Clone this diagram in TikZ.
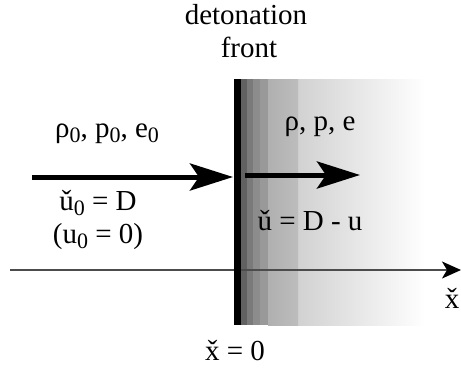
\documentclass[tikz,border=0pt]{standalone}
\usepackage{fontspec}
\setmainfont{Liberation Serif}
\newfontfamily\timesfont{Liberation Serif}
\usetikzlibrary{arrows.meta, positioning}

\newcommand{\lowsub}[1]{\raisebox{-0.45ex}{\fontsize{22}{22}\selectfont #1}}

\tikzset{
    lbl/.style={anchor=base, inner sep=0pt, font=\timesfont\fontsize{29}{34}\selectfont},
    flow/.style={line width=5pt, -{Stealth[length=43pt, width=27pt, inset=9pt]}},
}

\begin{document}
\begin{tikzpicture}[x=1pt, y=-1pt]
        \useasboundingbox (0,0) rectangle (461,368);

        % Shaded region behind the front
        \shade[left color=black!18, right color=white] (297,79) rectangle (425,325);
        \fill[black!62] (241,79) rectangle (247,325);
        \fill[black!52] (247,79) rectangle (253,325);
        \fill[black!45] (253,79) rectangle (260,325);
        \fill[black!40] (260,79) rectangle (268,325);
        \shade[left color=black!31, right color=black!26] (268,79) rectangle (298,325);

        % Axis
        \coordinate (ax0) at (10,270);
        \coordinate (ax1) at (461,270);
        \draw[gray!60!black, line width=1.5pt, -{Stealth[length=19pt, width=17pt, inset=5pt, black]}] (ax0) -- (ax1);

        % Detonation front
        \fill[black] (234,79) rectangle (241,325);

        % Flow arrows
        \coordinate (in0) at (32,177);
        \coordinate (in1) at (233,177);
        \coordinate (out0) at (245,175);
        \coordinate (out1) at (360,175);
        \draw[flow] (in0) -- (in1);
        \draw[flow] (out0) -- (out1);

        % Labels
        \node[lbl] (det) at (246,24) {detonation};
        \node[lbl] (front) at (249,57) {front};
        \node[lbl] (state0) at (107,137) {ρ\lowsub{0}, p\lowsub{0}, e\lowsub{0}};
        \node[lbl] (vel0) at (98,210) {ǔ\lowsub{0} = D};
        \node[lbl] (u0) at (98,243) {(u\lowsub{0} = 0)};
        \node[lbl] (state) at (320,130) {ρ, p, e};
        \node[lbl] (vel) at (310,230) {ǔ = D - u};
        \node[lbl] (xax) at (452,308) {\v{x}};
        \node[lbl] (xzero) at (235,360) {\v{x} = 0};

    \end{tikzpicture}
\end{document}
